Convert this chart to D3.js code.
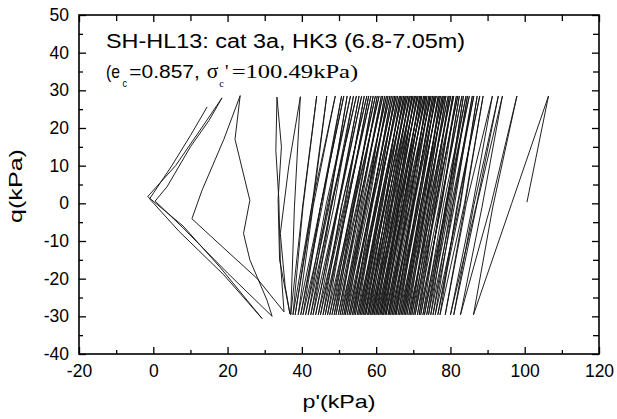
<!DOCTYPE html>
<html lang="en">
<head>
<meta charset="UTF-8">
<title>SH-HL13 stress path</title>
<script src="https://cdn.jsdelivr.net/npm/d3@7"></script>
<style>
  body { margin: 0; background: #fff; }
  svg { display: block; }
</style>
</head>
<body>
<svg id="chart"></svg>
<script>
    // axis ticks
    const xMajor = [-20, 0, 20, 40, 60, 80, 100, 120];
    const xMinor = [-10, 10, 30, 50, 70, 90, 110];
    const yMajor = [-40, -30, -20, -10, 0, 10, 20, 30, 40, 50];
    const yMinor = [-35, -25, -15, -5, 5, 15, 25, 35, 45];

    // start of loading (p', q)
    const startPoint = [100.6, 0.3];
    // q at the top / bottom of each cycle, and where the mid readings were taken
    const cycleQ = [28.5, -29.6];
    const midQ = [0, -1];

    // p' at every compression peak
    const peakP = [
        106.4, 97.9, 94.0, 92.9, 91.3, 88.8, 87.9, 87.2, 86.3, 85.9,
        85.1, 84.6, 84.2, 83.5, 83.1, 82.4, 82.0, 81.6, 80.9, 80.6,
        80.1, 79.7, 79.4, 78.8, 78.5, 78.1, 77.8, 77.3, 77.0, 76.7,
        76.2, 75.9, 75.6, 75.2, 74.8, 74.5, 74.2, 73.7, 73.4, 73.1,
        72.8, 72.3, 72.0, 71.7, 71.3, 71.0, 70.6, 70.3, 69.9, 69.6,
        69.2, 68.9, 68.5, 68.1, 67.8, 67.4, 67.0, 66.6, 66.3, 65.8,
        65.4, 65.0, 64.6, 64.1, 63.7, 63.2, 62.8, 62.3, 61.8, 61.4,
        60.8, 60.3, 59.8, 59.2, 58.6, 58.0, 57.5, 56.8, 56.1, 55.4,
        54.7, 53.9, 53.1, 52.2, 51.3, 50.7, 49.0, 46.7, 44.0
    ];
    // p' where each unloading leg crosses q = 0
    const downMidP = [
        96.5, 91.0, 87.2, 87.1, 84.3, 83.8, 82.1, 82.6, 80.3, 80.7,
        78.8, 79.6, 78.2, 79.0, 77.5, 77.7, 76.0, 76.4, 74.8, 75.7,
        74.4, 75.3, 73.4, 73.8, 72.2, 73.3, 72.1, 72.6, 70.9, 71.6,
        70.3, 71.2, 69.9, 70.2, 68.5, 69.3, 68.0, 69.1, 67.4, 67.7,
        66.3, 67.4, 66.1, 66.8, 65.0, 65.8, 64.5, 65.5, 63.5, 64.2,
        63.0, 64.1, 62.4, 62.6, 61.2, 62.3, 61.0, 61.6, 59.8, 60.4,
        59.1, 60.0, 58.6, 58.8, 57.0, 57.7, 56.3, 57.3, 55.5, 55.6,
        54.0, 54.9, 53.5, 53.9, 51.9, 52.4, 50.9, 51.5, 49.8, 49.8,
        47.9, 48.2, 46.6, 47.3, 45.2, 45.2, 42.8, 42.8, 40.3
    ];
    // p' at every extension trough
    const troughP = [
        86.2, 82.7, 80.9, 80.0, 78.6, 77.2, 76.6, 75.9, 75.3, 74.7,
        74.1, 73.6, 73.0, 72.6, 72.0, 71.6, 71.1, 70.5, 70.1, 69.6,
        69.2, 68.8, 68.3, 67.9, 67.5, 67.1, 66.7, 66.3, 65.9, 65.4,
        65.1, 64.7, 64.3, 63.9, 63.5, 63.2, 62.7, 62.4, 62.0, 61.7,
        61.3, 61.0, 60.6, 60.2, 59.9, 59.5, 59.1, 58.8, 58.4, 58.0,
        57.7, 57.2, 56.9, 56.5, 56.1, 55.7, 55.3, 54.9, 54.4, 54.0,
        53.6, 53.1, 52.7, 52.2, 51.7, 51.3, 50.8, 50.3, 49.8, 49.2,
        48.7, 48.1, 47.5, 46.9, 46.3, 45.7, 45.0, 44.4, 43.7, 43.0,
        42.4, 41.7, 41.0, 40.3, 39.7, 39.0, 38.2, 37.6, 37.0
    ];
    // p' where each reloading leg crosses q = -1
    const upMidP = [
        91.4, 88.5, 86.2, 85.9, 83.8, 81.7, 82.6, 80.6, 81.0, 79.0,
        79.8, 78.6, 79.0, 77.1, 77.4, 75.8, 76.9, 75.3, 76.0, 74.2,
        74.7, 73.3, 74.0, 72.3, 73.2, 71.9, 72.8, 70.9, 71.4, 69.8,
        71.1, 69.7, 70.0, 68.4, 69.5, 68.1, 68.9, 67.1, 67.7, 66.2,
        67.2, 66.0, 66.8, 65.1, 65.7, 64.1, 65.2, 63.9, 64.8, 62.8,
        63.5, 62.2, 63.1, 61.2, 62.1, 60.8, 61.6, 59.9, 60.2, 58.7,
        59.9, 58.4, 58.7, 57.0, 57.9, 56.4, 57.2, 55.2, 55.8, 54.0,
        54.9, 53.4, 54.0, 52.0, 52.2, 50.6, 51.5, 49.8, 49.8, 47.9,
        48.6, 46.8, 47.3, 45.0, 45.4, 43.0, 42.9, 40.3, 38.0
    ];

    // last cycles (cyclic mobility), read point by point
    const tailP = [
        39.6, 36.5, 34.2, 35.5, 36.8,
        34.0, 33.6, 34.5, 33.3,
        33.0, 33.8, 34.2, 35.2,
        28.0, 18.0, 10.4, 13.1, 19.0, 23.4,
        22.0, 26.0, 24.3, 26.0, 30.6, 32.0,
        20.0, 8.0, 0.5, 3.7, 10.0, 15.0, 18.5,
        13.0, 6.0, -1.5, 8.0, 18.0, 29.3,
        19.0, 7.0, -1.0, 5.0, 10.0, 14.5
    ];
    const tailQ = [
        28.3, 10.0, -8.0, -22.0, -29.4,
        -15.0, 1.0, 15.0, 28.2,
        14.0, 1.0, -15.0, -28.8,
        -20.0, -11.0, -4.1, 3.4, 17.0, 28.6,
        17.0, 0.8, -8.0, -15.0, -25.7, -30.0,
        -18.5, -6.5, 0.6, 4.4, 15.0, 22.0, 28.0,
        20.0, 10.0, 1.8, -6.0, -17.0, -30.6,
        -19.0, -7.5, 1.2, 10.0, 18.0, 25.6
    ];

    const width = 617, height = 419;
    const sans = "'Liberation Sans', Arial, sans-serif";
    const serif = "'Liberation Serif', 'Times New Roman', serif";

    const svg = d3.select("#chart")
        .attr("width", width)
        .attr("height", height)
        .style("font-family", sans);

    const x = d3.scaleLinear().domain([-20, 120]).range([79, 599]);
    const y = d3.scaleLinear().domain([-40, 50]).range([354, 15]);

    // build the stress path in test order
    const path = [startPoint];
    peakP.forEach((p, i) => {
        path.push([p, cycleQ[0]]);
        path.push([downMidP[i], midQ[0]]);
        path.push([troughP[i], cycleQ[1]]);
        path.push([upMidP[i], midQ[1]]);
    });
    tailP.forEach((p, i) => path.push([p, tailQ[i]]));

    const line = d3.line()
        .x(d => x(d[0]))
        .y(d => y(d[1]));

    svg.append("path")
        .datum(path)
        .attr("fill", "none")
        .attr("stroke", "#151515")
        .attr("stroke-width", 0.95)
        .attr("stroke-linejoin", "round")
        .attr("d", line);

    // axes, ticks pointing inward on all four sides
    function drawAxis(axis, transform) {
        const g = svg.append("g")
            .attr("transform", transform)
            .call(axis);
        g.select(".domain").remove();
        g.selectAll(".tick line").attr("stroke", "#000").attr("stroke-width", 1.3);
        g.selectAll(".tick text")
            .attr("fill", "#000")
            .style("font-size", "17.5px")
            .style("font-family", sans);
        return g;
    }
    const fmt = d => String(d);

    drawAxis(d3.axisBottom(x).tickValues(xMajor).tickSizeInner(-7).tickSizeOuter(0).tickPadding(11).tickFormat(fmt), "translate(0,354)");
    drawAxis(d3.axisBottom(x).tickValues(xMinor).tickSizeInner(-4).tickSizeOuter(0).tickFormat(""), "translate(0,354)");
    drawAxis(d3.axisTop(x).tickValues(xMajor).tickSizeInner(-7).tickSizeOuter(0).tickFormat(""), "translate(0,15)");
    drawAxis(d3.axisTop(x).tickValues(xMinor).tickSizeInner(-6).tickSizeOuter(0).tickFormat(""), "translate(0,15)");
    drawAxis(d3.axisLeft(y).tickValues(yMajor).tickSizeInner(-7).tickSizeOuter(0).tickPadding(10).tickFormat(fmt), "translate(79,0)");
    drawAxis(d3.axisLeft(y).tickValues(yMinor).tickSizeInner(-4).tickSizeOuter(0).tickFormat(""), "translate(79,0)");
    drawAxis(d3.axisRight(y).tickValues(yMajor).tickSizeInner(-7).tickSizeOuter(0).tickFormat(""), "translate(599,0)");
    drawAxis(d3.axisRight(y).tickValues(yMinor).tickSizeInner(-6).tickSizeOuter(0).tickFormat(""), "translate(599,0)");

    svg.append("rect")
        .attr("x", 79).attr("y", 15)
        .attr("width", 520).attr("height", 339)
        .attr("fill", "none")
        .attr("stroke", "#000")
        .attr("stroke-width", 1.6);

    // axis titles
    svg.append("text")
        .attr("x", 339).attr("y", 408)
        .attr("text-anchor", "middle")
        .style("font-size", "18.5px")
        .attr("textLength", 73)
        .attr("lengthAdjust", "spacingAndGlyphs")
        .text("p'(kPa)");

    svg.append("text")
        .attr("transform", "translate(22,186) rotate(-90)")
        .attr("text-anchor", "middle")
        .style("font-size", "18.5px")
        .attr("textLength", 74)
        .attr("lengthAdjust", "spacingAndGlyphs")
        .text("q(kPa)");

    // annotation
    function label(txt, xPos, yPos, size, family, len) {
        const t = svg.append("text")
            .attr("x", xPos).attr("y", yPos)
            .style("font-size", size + "px")
            .style("font-family", family)
            .attr("fill", "#000")
            .text(txt);
        if (len) t.attr("textLength", len).attr("lengthAdjust", "spacingAndGlyphs");
        return t;
    }
    label("SH-HL13: cat 3a, HK3 (6.8-7.05m)", 106, 48.3, 19.5, sans, 359);
    label("(e", 106, 78.3, 19, sans, 14);
    label("c", 122.5, 86.7, 10, sans, 4.5);
    label("=0.857,", 129.3, 78.3, 19, sans, 70.5);
    label("\u03c3", 206.7, 78.3, 20, serif, 11.6);
    label("c", 219.3, 86.7, 10, serif, 4.5);
    label("'", 225, 78.3, 19, serif, 3.5);
    label("=100.49kPa)", 231.7, 78.3, 19.5, serif, 126.5);
</script>
</body>
</html>
